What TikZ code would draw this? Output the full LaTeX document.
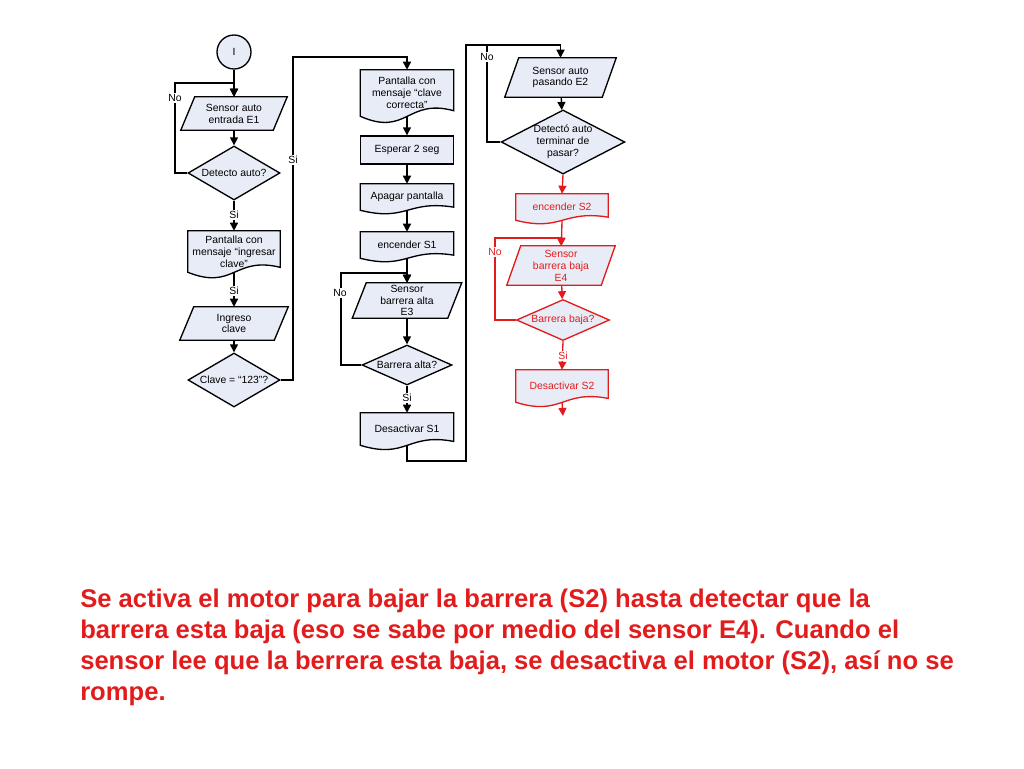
\documentclass[tikz,border=0pt]{standalone}
\usepackage{fontspec}
\setmainfont{Liberation Sans}
\usetikzlibrary{shapes.geometric,arrows.meta,calc,backgrounds}
\definecolor{fillc}{RGB}{232,236,246}
\definecolor{myred}{RGB}{226,28,28}
\newcommand\fs{\fontsize{7.8}{8.9}\selectfont}
\tikzset{
 box/.style={rectangle,draw=none,inner sep=1pt,align=center,font=\fs},
 dec/.style={diamond,draw,fill=fillc,line width=1pt,inner sep=0pt,align=center,font=\fs},
 lab/.style={font=\fs,fill=white,inner sep=1pt},
 arr/.style={-{Triangle[length=6pt,width=6pt]},line width=1pt},
 ln/.style={line width=1pt},
}
\newcommand\docnode[7]{%
 \node[box,minimum width=#4*0.75pt,minimum height=#5*0.75pt,text=#7] (#1) at (#2,#3) {#6};
 \begin{scope}[on background layer]
 \draw[ln,draw=#7,fill=fillc] (#1.north west) -- (#1.north east) -- ($(#1.south east)+(0,-0.12*#5)$)
  .. controls ($(#1.south)+(0,-0.4*#5)$) and ($(#1.south)+(0,0.45*#5)$) .. (#1.south west) -- cycle;
 \end{scope}}
\newcommand\paranode[8]{%
 \node[box,minimum width=#4*0.75pt,minimum height=#5*0.75pt,text=#8] (#1) at (#2,#3) {#7};
 \begin{scope}[on background layer]
 \draw[ln,draw=#8,fill=fillc] ($(#1.north west)+(#6,0)$) -- (#1.north east) -- ($(#1.south east)+(-#6,0)$) -- (#1.south west) -- cycle;
 \end{scope}}
\begin{document}
\begin{tikzpicture}[x=0.75pt,y=-0.75pt]
\useasboundingbox (0,0) rectangle (1024,768);
% column 1
\node[circle,draw,fill=fillc,line width=1pt,minimum size=34*0.75pt,inner sep=0pt,font=\fs] (s) at (234,52) {I};
\paranode{e1}{234}{113.5}{106}{33}{14}{Sensor auto\\entrada E1}{black}
\node[dec,aspect=1.7,minimum width=92*0.75pt,minimum height=54*0.75pt] (dA) at (234,173) {Detecto auto?};
\docnode{d1}{234}{251.5}{92}{41}{Pantalla con\\mensaje ``ingresar\\clave''}{black}
\paranode{ing}{234}{323.5}{108}{33}{14}{Ingreso\\clave}{black}
\node[dec,aspect=1.7,minimum width=92*0.75pt,minimum height=54*0.75pt] (dC) at (234,380) {Clave = ``123''?};
% column 2
\docnode{d2}{407}{93}{93}{46}{Pantalla con\\mensaje ``clave\\correcta''}{black}
\node[box,draw,fill=fillc,line width=1pt,minimum width=93*0.75pt,minimum height=28*0.75pt] (esp) at (407,150) {Esperar 2 seg};
\docnode{apa}{407}{197}{93}{26}{Apagar pantalla}{black}
\docnode{en1}{407}{245}{93}{26}{encender S1}{black}
\paranode{e3}{407}{300.5}{109}{35}{14}{Sensor\\barrera alta\\E3}{black}
\node[dec,aspect=2.25,minimum width=90*0.75pt,minimum height=40*0.75pt] (dB) at (407,365) {Barrera alta?};
\docnode{ds1}{407}{429}{93}{32}{Desactivar S1}{black}
% column 3
\paranode{e2}{560.5}{77.5}{111}{39}{14}{Sensor auto\\pasando E2}{black}
\node[dec,aspect=1.93,minimum width=118*0.75pt,minimum height=61*0.75pt] (dD) at (563,142) {Detectó auto\\terminar de\\pasar?};
\docnode{en2}{562}{207}{92}{26}{encender S2}{myred}
\paranode{e4}{561}{265.5}{108}{39}{14}{Sensor\\barrera baja\\E4}{myred}
\node[dec,aspect=2.27,draw=myred,text=myred,minimum width=93*0.75pt,minimum height=41*0.75pt] (dE) at (563,320) {Barrera baja?};
\docnode{ds2}{562}{386}{92}{32}{Desactivar S2}{myred}
% coordinates
\coordinate (c1) at (175,83);
\coordinate (c2) at (293,57);
\coordinate (c3) at (341,273);
\coordinate (c4) at (466,461);
\coordinate (c5) at (466,45);
\coordinate (c6) at (487,45);
\coordinate (c7) at (495,238);
\coordinate (c8) at (563,416);
% connectors col 1
\draw[arr] (s) -- (e1);
\draw[arr] (e1) -- (dA);
\draw[arr] (dA.west) -| (c1) -| (e1.north);
\node[lab] (nA) at (175,98) {No};
\draw[arr] (dA.south) -- (d1.north);
\node[lab] (sA) at (234,215) {Si};
\draw[arr] (d1.south) -- (ing.north);
\node[lab] (sB) at (234,291) {Si};
\draw[arr] (ing) -- (dC);
\draw[arr] (dC.east) -| (c2) -| (d2.north);
\node[lab] (sC) at (293,160) {Si};
% col 2
\draw[arr] (d2.south) -- (esp);
\draw[arr] (esp) -- (apa);
\draw[arr] (apa.south) -- (en1);
\draw[arr] (en1.south) -- (e3);
\draw[arr] (e3) -- (dB);
\draw[arr] (dB.west) -| (c3) -| (e3.north);
\node[lab] (nB) at (340,293) {No};
\draw[arr] (dB.south) -- (ds1.north);
\node[lab] (sD) at (407,398) {Si};
\draw[arr] (ds1.south) |- (c4) -- (c5) -| (e2.north);
% col 3
\draw[arr] (e2) -- (dD);
\draw[ln] (dD.west) -| (c6);
\node[lab] (nD) at (487,57) {No};
\draw[arr,draw=myred] (dD.south) -- (en2.north);
\draw[arr,draw=myred] (en2.south) -- (e4);
\draw[arr,draw=myred] (e4) -- (dE);
\draw[arr,draw=myred] (dE.west) -| (c7) -| (e4.north);
\node[lab,text=myred] (nE) at (495,252) {No};
\draw[arr,draw=myred] (dE.south) -- (ds2.north);
\node[lab,text=myred] (sE) at (563,356) {Si};
\draw[arr,draw=myred] (ds2.south) -- (c8);
% paragraph
\node[anchor=north west,align=left,inner sep=0pt,text=myred,font=\fontsize{19.2}{23.2}\selectfont\bfseries] (para) at (80,589)
 {Se activa el motor para bajar la barrera (S2) hasta detectar que la\\
  barrera esta baja (eso se sabe por medio del sensor E4). Cuando el\\
  sensor lee que la berrera esta baja, se desactiva el motor (S2), así no se\\
  rompe.};
\end{tikzpicture}
\end{document}
